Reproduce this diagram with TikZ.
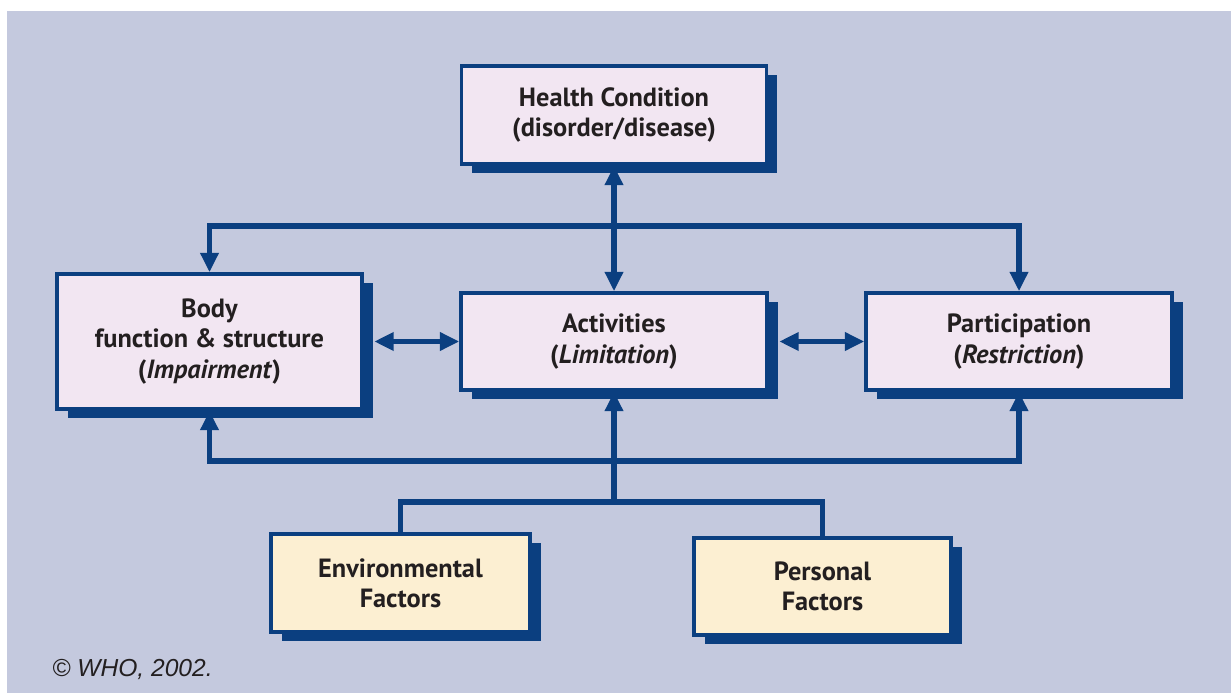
\documentclass[tikz,border=0pt]{standalone}
\usepackage{fontspec}
\setmainfont{PT Sans}
\newfontfamily\copyfont{Liberation Sans}
\usetikzlibrary{positioning}
\usetikzlibrary{arrows.meta,shadows}
\definecolor{linec}{HTML}{0B3F80}
\definecolor{panel}{HTML}{C4C9DE}
\definecolor{boxfill}{HTML}{F2E6F2}
\definecolor{factfill}{HTML}{FCEFD2}
\definecolor{inkc}{HTML}{231F20}
\begin{document}
\begin{tikzpicture}[
    box/.style={draw=linec, line width=2pt, fill=boxfill, align=center, inner sep=0pt,
      font=\fontsize{15}{17.2}\selectfont\bfseries, text=inkc,
      drop shadow={shadow xshift=6pt, shadow yshift=-5pt, fill=linec, opacity=1}},
    factbox/.style={box, fill=factfill},
    link/.style={draw=linec, line width=2.9pt},
    tip/.style={-{Triangle[length=11pt,width=10pt]}},
    tips/.style={{Triangle[length=11pt,width=10pt]}-{Triangle[length=11pt,width=10pt]}}]
	\useasboundingbox (0,0) rectangle (24.62,-13.86);
	\fill[panel] (0.14,-0.22) rectangle (24.62,-13.86);
	% boxes
	\node[box, minimum width=6.1cm, minimum height=1.96cm] (health) at (12.28,-2.30) {Health Condition\\(disorder/disease)};
	\node[box, minimum width=6.1cm, minimum height=2.7cm] (body) at (4.19,-6.83) {Body\\function \& structure\\(\textit{Impairment})};
	\node[box, minimum width=6.12cm, minimum height=1.94cm] (act) at (12.28,-6.83) {Activities\\(\textit{Limitation})};
	\node[box, minimum width=6.12cm, minimum height=1.94cm] (part) at (20.38,-6.83) {Participation\\(\textit{Restriction})};
	\node[factbox, minimum width=5.18cm, minimum height=1.96cm] (env) at (8.01,-11.66) {Environmental\\Factors};
	\node[factbox, minimum width=5.14cm, minimum height=1.94cm] (pers) at (16.45,-11.73) {Personal\\Factors};
	\node[anchor=base west, inner sep=0pt, text=inkc, font=\copyfont\itshape\fontsize{14}{16}\selectfont] (who) at (1.04,-13.52) {© WHO, 2002.};
	% buses
	\coordinate (topbus) at (12.28,-4.52);
	\coordinate (botbus) at (12.28,-9.22);
	\coordinate (factbus) at (12.28,-10.04);
	\draw[link, tips] (health.south) -- (act.north);
	\draw[link, tip] (topbus) -| (body.north);
	\draw[link, tip] (topbus) -| (part.north);
	\draw[link, tip] (botbus) -| (body.south);
	\draw[link, tip] (botbus) -| (part.south);
	\draw[link, tip] (factbus) -- (act.south);
	\draw[link] (env.north) |- (factbus) -| (pers.north);
	\draw[link, tips, shorten <=6pt] (body.east) -- (act.west);
	\draw[link, tips, shorten <=6pt] (act.east) -- (part.west);
\end{tikzpicture}
\end{document}
